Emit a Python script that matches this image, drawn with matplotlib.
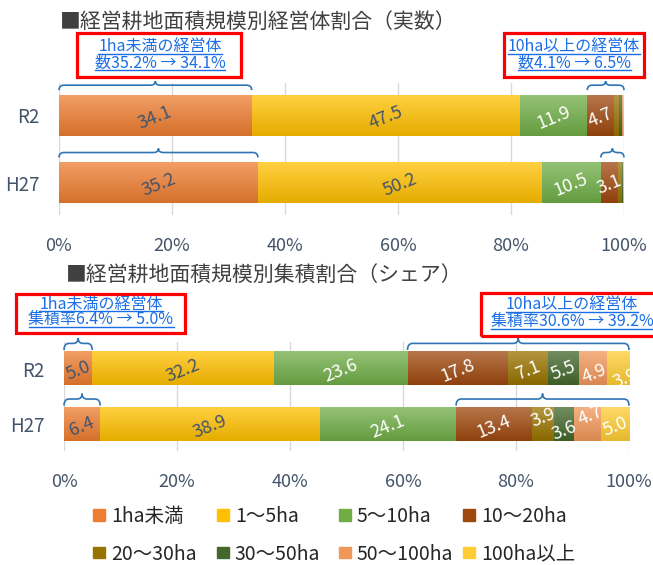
import numpy as np
import matplotlib
matplotlib.use("Agg")
import matplotlib.pyplot as plt
from matplotlib.colors import to_rgb
from matplotlib.patches import Rectangle, PathPatch
from matplotlib.path import Path
from matplotlib.lines import Line2D

plt.rcParams['font.family'] = ['Noto Sans CJK JP', 'DejaVu Sans']

# データ（%）
categories = ['R2', 'H27']
size_labels = ['1ha未満', '1～5ha', '5～10ha', '10～20ha',
               '20～30ha', '30～50ha', '50～100ha', '100ha以上']
count_r2 = [34.1, 47.5, 11.9, 4.7, 1.0, 0.5, 0.2, 0.1]
count_h27 = [35.2, 50.2, 10.5, 3.1, 0.6, 0.2, 0.1, 0.1]
share_r2 = [5.0, 32.2, 23.6, 17.8, 7.1, 5.5, 4.9, 3.9]
share_h27 = [6.4, 38.9, 24.1, 13.4, 3.9, 3.6, 4.7, 5.0]

colors = ['#ED7D31', '#FFC000', '#70AD47', '#9E480E',
          '#997300', '#43682B', '#F1975A', '#FFCD33']
dark_text = '#44546A'
brace_color = '#2E75B6'
link_color = '#1A6EE6'

W, H = 653, 565
fig = plt.figure(figsize=(W / 100, H / 100), dpi=100)


def fx(px):
    return px / W


def fy(py):
    return 1 - py / H


def gradient(color):
    c = np.array(to_rgb(color))
    top = c + (1 - c) * 0.25
    bot = c * 0.9
    t = np.linspace(0, 1, 32)[:, None]
    return (top * (1 - t) + bot * t).reshape(32, 1, 3)


def brace(ax, x0, x1, ytop, h_px, gap_px):
    # 棒の上に中括弧を描く（y軸は反転済み）
    ylim = ax.get_ylim()
    ppu_y = ax.bbox.height / abs(ylim[0] - ylim[1])
    ppu_x = ax.bbox.width / 100
    base = ytop - gap_px / ppu_y
    tip = base - h_px / ppu_y
    mid = base - 0.55 * h_px / ppu_y
    r = min(5 / ppu_x, (x1 - x0) / 4)
    xc = (x0 + x1) / 2
    verts = [(x0, base), (x0, mid), (x0 + r, mid),
             (xc - r, mid), (xc, mid), (xc, tip),
             (xc, mid), (xc + r, mid),
             (x1 - r, mid), (x1, mid), (x1, base)]
    codes = [Path.MOVETO, Path.CURVE3, Path.CURVE3, Path.LINETO,
             Path.CURVE3, Path.CURVE3, Path.CURVE3, Path.CURVE3,
             Path.LINETO, Path.CURVE3, Path.CURVE3]
    ax.add_patch(PathPatch(Path(verts, codes), fill=False, ec=brace_color,
                           lw=1.2, clip_on=False, zorder=4))


def draw_chart(ax, rows, show_min, offsets):
    y = np.arange(len(categories))
    data = np.array(rows)
    left = np.zeros(len(categories))
    bar_h = 0.6
    for j, name in enumerate(size_labels):
        vals = data[:, j]
        bars = ax.barh(y, vals, left=left, height=bar_h, color=colors[j],
                       label=name, zorder=1)
        for i, p in enumerate(bars.patches):
            x0, y0, w, h = p.get_x(), p.get_y(), p.get_width(), p.get_height()
            ax.imshow(gradient(colors[j]), extent=[x0, x0 + w, y0 + h, y0],
                      aspect='auto', zorder=1.5, interpolation='bilinear')
            if vals[i] >= show_min:
                tc = dark_text if j < 2 else 'white'
                dx, dy = offsets.get((i, j), (0, 0))
                ax.annotate(f'{vals[i]:.1f}', (x0 + w / 2, y[i]),
                            xytext=(dx, dy - 1.5), textcoords='offset points',
                            ha='center', va='center', rotation=22, color=tc,
                            fontsize=13, zorder=3)
        left += vals
    ax.set_xlim(0, 100)
    ax.set_ylim(1.48, -0.48)
    ax.set_xticks(np.arange(0, 101, 20))
    ax.set_xticklabels([f'{v}%' for v in range(0, 101, 20)])
    ax.set_yticks(y)
    ax.set_yticklabels(categories)
    ax.tick_params(axis='x', length=0, pad=16, labelsize=13, labelcolor=dark_text)
    ax.tick_params(axis='y', length=0, pad=14, labelsize=13.5, labelcolor=dark_text)
    ax.grid(axis='x', color='#D9D9D9', lw=1)
    ax.set_axisbelow(True)
    for s in ax.spines.values():
        s.set_visible(False)
    return data, y, bar_h


# 上：経営体数
ax1 = fig.add_axes([fx(59), fy(215), fx(624) - fx(59), (215 - 83) / H])
d1, y1, bh1 = draw_chart(ax1, [count_r2, count_h27], 2.0, {})
for i in range(len(categories)):
    cum = np.cumsum(d1[i])
    brace(ax1, 0, cum[0], y1[i] - bh1 / 2, 9, 5)
    brace(ax1, cum[2], 100, y1[i] - bh1 / 2, 9, 5)

# 下：面積シェア
ax2 = fig.add_axes([fx(64), fy(451), fx(629) - fx(64), (451 - 342) / H])
label_offsets = {(1, 4): (0, 6.5), (1, 5): (0, -3), (1, 6): (2, 8),
                 (0, 6): (1, -2), (0, 7): (5, -6)}
d2, y2, bh2 = draw_chart(ax2, [share_r2, share_h27], 0.5, label_offsets)
for i in range(len(categories)):
    cum = np.cumsum(d2[i])
    brace(ax2, 0, cum[0], y2[i] - bh2 / 2, 12, 2)
    brace(ax2, cum[2], 100, y2[i] - bh2 / 2, 12, 2)

# タイトル
fig.text(fx(60), fy(22), '■経営耕地面積規模別経営体割合（実数）', fontsize=15,
         color='#404040', va='center', ha='left')
fig.text(fx(66), fy(275), '■経営耕地面積規模別集積割合（シェア）', fontsize=15,
         color='#404040', va='center', ha='left')

# 注記ボックス
small_h27 = sum(count_h27[3:])
small_r2 = sum(count_r2[3:])
share_big_h27 = sum(share_h27[3:])
share_big_r2 = sum(share_r2[3:])
notes = [
    ((77, 33, 241, 77), 160, (47, 63),
     ['1ha未満の経営体', f'数{count_h27[0]:.1f}% → {count_r2[0]:.1f}%']),
    ((504, 33, 644, 77), 574, (47, 63),
     ['10ha以上の経営体', f'数{small_h27:.1f}% → {small_r2:.1f}%']),
    ((16, 294, 185, 333), 101, (304, 320),
     ['1ha未満の経営体', f'集積率{share_h27[0]:.1f}% → {share_r2[0]:.1f}%']),
    ((481, 293, 668, 336), 572, (305, 322),
     ['10ha以上の経営体', f'集積率{share_big_h27:.1f}% → {share_big_r2:.1f}%']),
]
note_texts = []
for (bx0, by0, bx1, by1), cx, ys, lines in notes:
    fig.add_artist(Rectangle((fx(bx0), fy(by1)), (bx1 - bx0) / W, (by1 - by0) / H,
                             transform=fig.transFigure, fill=False,
                             ec='#FF0000', lw=2.3))
    for ty, s in zip(ys, lines):
        note_texts.append(fig.text(fx(cx), fy(ty), s, fontsize=11.5,
                                   color=link_color, ha='center', va='center'))

# 凡例（4列×2行）
col_x = [93, 217, 339, 463]
for c in range(4):
    handles = [Rectangle((0, 0), 1, 1, color=colors[c]),
               Rectangle((0, 0), 1, 1, color=colors[c + 4])]
    labels = [size_labels[c], size_labels[c + 4]]
    fig.legend(handles, labels, loc='upper left',
               bbox_to_anchor=(fx(col_x[c]), fy(506)), frameon=False,
               fontsize=14, handlelength=0.62, handleheight=0.52,
               handletextpad=0.3, labelspacing=0.85, borderpad=0,
               borderaxespad=0, labelcolor='#262626')

# 下線
fig.canvas.draw()
renderer = fig.canvas.get_renderer()
inv = fig.transFigure.inverted()
for t in note_texts:
    bb = t.get_window_extent(renderer)
    (a0, b0), (a1, _) = inv.transform([(bb.x0, bb.y0 + 2), (bb.x1, bb.y0 + 2)])
    fig.add_artist(Line2D([a0, a1], [b0, b0], transform=fig.transFigure,
                          color=link_color, lw=1))

fig.savefig('out.png', dpi=100)
